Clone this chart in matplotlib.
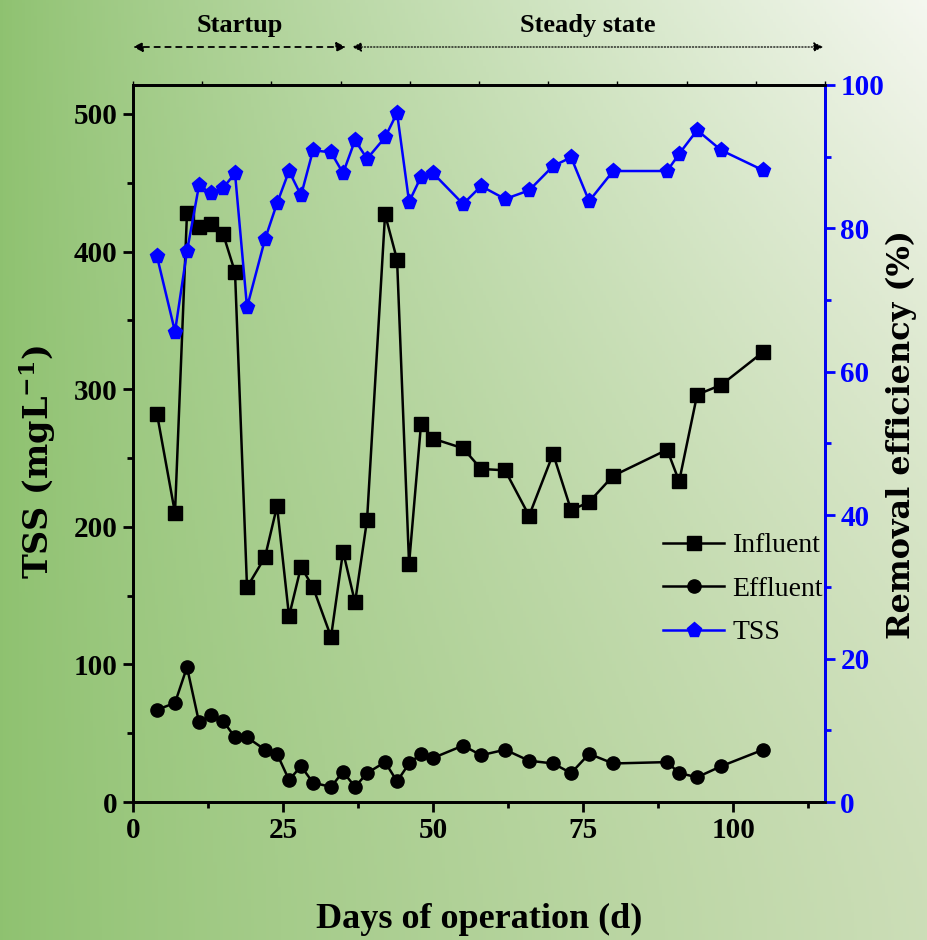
import numpy as np
import matplotlib
matplotlib.use("Agg")
import matplotlib.pyplot as plt
from matplotlib.ticker import MultipleLocator, FixedLocator
import matplotlib.transforms as mtransforms

plt.rcParams['mathtext.fontset'] = 'custom'
plt.rcParams['mathtext.bf'] = 'DejaVu Serif:bold'
plt.rcParams['mathtext.rm'] = 'DejaVu Serif:bold'

# days of operation
days = [4, 7, 9, 11, 13, 15, 17, 19, 22, 24, 26, 28, 30, 33, 35, 37, 39, 42, 44, 46,
        48, 50, 55, 58, 62, 66, 70, 73, 76, 80, 89, 91, 94, 98, 105]
influent = [282, 210, 428, 418, 420, 413, 385, 156, 178, 215, 135, 171, 156, 120, 182,
            145, 205, 427, 394, 173, 275, 264, 257, 242, 241, 208, 253, 212, 218, 237,
            256, 233, 296, 303, 327]
effluent = [67, 72, 98, 58, 63, 59, 47, 47, 38, 35, 16, 26, 14, 11, 22, 11, 21, 29,
            15, 28, 35, 32, 41, 34, 38, 30, 28, 21, 35, 28, 29, 21, 18, 26, 38]
removal = [76.1, 65.6, 76.8, 86.0, 84.9, 85.6, 87.7, 69.0, 78.5, 83.5, 88.0, 84.6,
           90.9, 90.6, 87.7, 92.3, 89.7, 92.7, 96.1, 83.7, 87.2, 87.7, 83.4, 85.9,
           84.1, 85.3, 88.7, 89.9, 83.8, 88.0, 88.0, 90.4, 93.7, 90.9, 88.1]

phases = ['Startup', 'Steady state']
phase_bounds = [(0, 35.5), (36.5, 115)]

tick_font = dict(family='Liberation Serif', weight='bold', size=21)

fig = plt.figure(figsize=(9.28, 9.4), dpi=100)

# gradient background
bg = fig.add_axes([0, 0, 1, 1], zorder=-10)
nx, ny = 300, 300
xx, yy = np.meshgrid(np.linspace(0, 1, nx), np.linspace(1, 0, ny))
left = np.array([0.56, 0.76, 0.44])
right_low = np.array([0.80, 0.87, 0.72])
right_top = np.array([0.96, 0.97, 0.94])
target = right_low + (right_top - right_low) * (yy[..., None] ** 1.6)
img = left + (target - left) * (xx[..., None] ** 0.85)
bg.imshow(np.clip(img, 0, 1), aspect='auto', extent=[0, 1, 0, 1])
bg.axis('off')

ax = fig.add_axes([0.1433, 0.1468, 0.7457, 0.7628])
ax.set_facecolor('none')
ax2 = ax.twinx()

l1, = ax.plot(days, influent, '-', color='black', lw=1.8, marker='s', ms=9.5,
              label='Influent')
l2, = ax.plot(days, effluent, '-', color='black', lw=1.8, marker='o', ms=9.5,
              label='Effluent')
l3, = ax2.plot(days, removal, '-', color='blue', lw=1.8, marker='p', ms=11,
               label='TSS')

ax.set_xlim(0, 115.3)
ax.set_ylim(0, 521)
ax2.set_ylim(0, 100)

ax.xaxis.set_major_locator(MultipleLocator(25))
ax.xaxis.set_minor_locator(MultipleLocator(12.5))
ax.yaxis.set_major_locator(MultipleLocator(100))
ax.yaxis.set_minor_locator(MultipleLocator(50))
ax2.yaxis.set_major_locator(MultipleLocator(20))
ax2.yaxis.set_minor_locator(MultipleLocator(10))

for a in (ax, ax2):
    for s in a.spines.values():
        s.set_linewidth(2)
ax2.spines['right'].set_color('blue')
ax.tick_params(which='major', direction='out', length=7, width=2, pad=4)
ax.tick_params(which='minor', direction='out', length=4, width=2)
ax2.tick_params(axis='y', which='major', direction='out', length=7, width=2,
                colors='blue', pad=4)
ax2.tick_params(axis='y', which='minor', direction='out', length=4, width=2,
                colors='blue')

for lab in ax.get_xticklabels() + ax.get_yticklabels():
    lab.set_fontproperties(matplotlib.font_manager.FontProperties(**tick_font))
for lab in ax2.get_yticklabels():
    lab.set_fontproperties(matplotlib.font_manager.FontProperties(**tick_font))
    lab.set_color('blue')

# small ticks on top spine
top = ax.secondary_xaxis('top')
top.xaxis.set_major_locator(FixedLocator(np.linspace(0, 115.3, 11)))
top.tick_params(direction='out', length=3, width=1, labeltop=False)
top.spines['top'].set_visible(False)

ax.set_xlabel('Days of operation (d)', family='Liberation Serif', weight='bold',
              size=26, labelpad=42)
ax.set_ylabel(r'TSS (mgL$^{\mathbf{-1}}$)', family='DejaVu Serif', weight='bold',
              size=24)
ax.yaxis.set_label_coords(-0.108, 0.474)
ax2.set_ylabel('Removal efficiency (%)', family='DejaVu Serif', weight='bold',
               size=23)
ax2.yaxis.set_label_coords(1.088, 0.512)

leg = ax.legend(handles=[l1, l2, l3], loc='upper left', bbox_to_anchor=(0.73, 0.41),
                frameon=False, prop=dict(family='Liberation Serif', size=20),
                handlelength=2.2, handletextpad=0.3, labelspacing=0.65)

# phase arrows above the plot
trans = mtransforms.blended_transform_factory(ax.transData, fig.transFigure)
styles = [dict(ls=(0, (3, 3)), lw=1.3), dict(ls=(0, (1, 1.5)), lw=0.9)]
for name, (x0, x1), st in zip(phases, phase_bounds, styles):
    ax.annotate('', xy=(x0, 0.95), xytext=(x1, 0.95), xycoords=trans, textcoords=trans,
                arrowprops=dict(arrowstyle='<|-|>', color='black', lw=st['lw'],
                                ls=st['ls'], mutation_scale=14, shrinkA=0, shrinkB=0),
                annotation_clip=False)
    ax.text((x0 + x1) / 2, 0.973, name, transform=trans, ha='center', va='center',
            family='Liberation Serif', weight='bold', size=19)

fig.savefig('out.png', dpi=100)
